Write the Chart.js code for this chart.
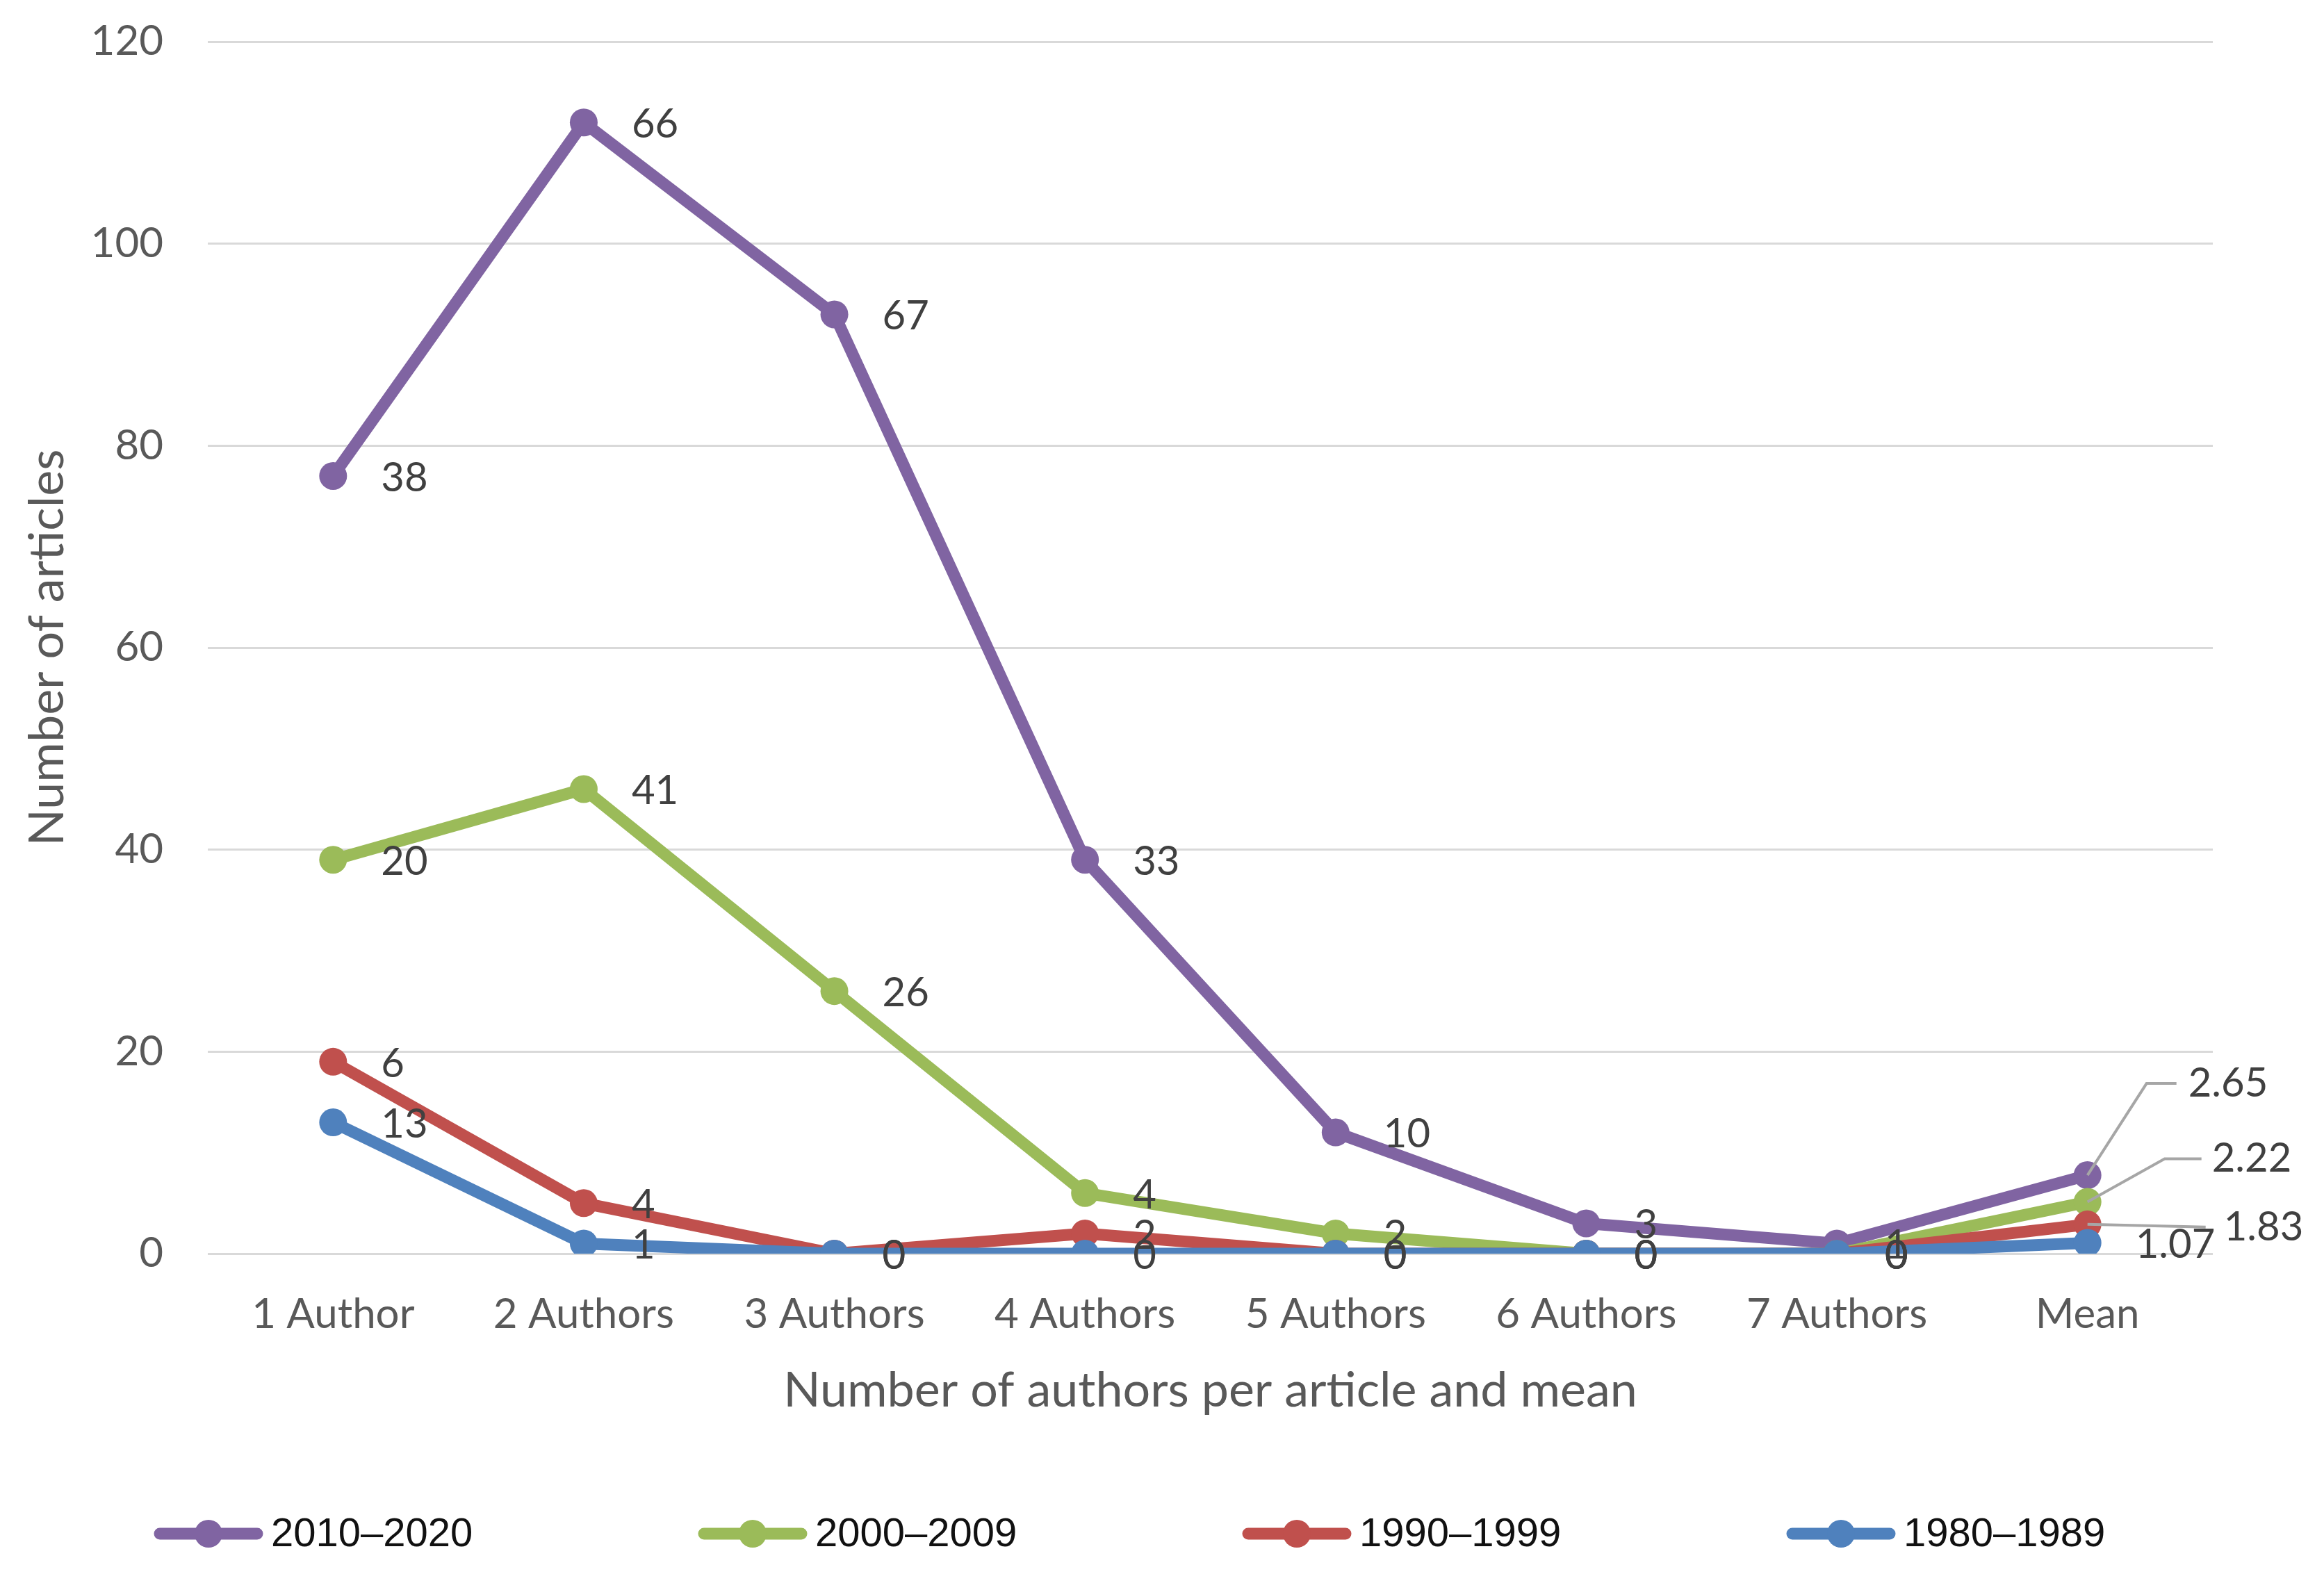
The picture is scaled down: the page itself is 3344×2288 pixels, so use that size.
<!DOCTYPE html>
<html>
<head>
<meta charset="utf-8">
<script src="https://cdn.jsdelivr.net/npm/chart.js@4.4.0/dist/chart.umd.min.js"></script>
<style>
  html, body { margin: 0; padding: 0; background: #fff; }
  canvas { display: block; }
</style>
</head>
<body>
<canvas id="chart" width="3344" height="2288"></canvas>
<script>
// Categories and series (raw counts; the chart stacks them)
const categories = ['1 Author', '2 Authors', '3 Authors', '4 Authors', '5 Authors', '6 Authors', '7 Authors', 'Mean'];
const series1980 = [13, 1, 0, 0, 0, 0, 0, 1.07];
const series1990 = [6, 4, 0, 2, 0, 0, 0, 1.83];
const series2000 = [20, 41, 26, 4, 2, 0, 0, 2.22];
const series2010 = [38, 66, 67, 33, 10, 3, 1, 2.65];
const yTicks = [0, 20, 40, 60, 80, 100, 120];

// Excel-like palette
const COLORS = {
  purple: '#8064A2',
  green: '#9BBB59',
  red: '#C0504D',
  blue: '#4F81BD',
  grid: '#D9D9D9',
  text: '#595959',
  label: '#404040',
  leader: '#A6A6A6',
};

const TICK_FONT = "Lato, 'Open Sans', sans-serif";
const LEGEND_FONT = "'Liberation Sans', Arial, sans-serif";
const LINE_W = 17;
const MARKER_R = 20;

// Callout placement for the "Mean" labels (offsets from the point, px)
const meanCallouts = {
  '2010–2020': { elbow: [85, -132], end: 128, text: 145 },
  '2000–2009': { elbow: [111, -62], end: 164, text: 179 },
  '1990–1999': { elbow: [170, 4], end: 170, text: 196 },
};

function makeSeries(label, data, color) {
  return {
    label,
    data,
    borderColor: color,
    backgroundColor: color,
    borderWidth: LINE_W,
    pointRadius: MARKER_R,
    pointHoverRadius: MARKER_R,
    pointBorderWidth: 0,
    pointBackgroundColor: color,
    fill: false,
    tension: 0,
  };
}

// Value labels next to each point (raw series value, not the stacked total)
const valueLabels = {
  id: 'valueLabels',
  afterDatasetsDraw(chart) {
    const ctx = chart.ctx;
    ctx.save();
    ctx.font = '58px ' + TICK_FONT;
    ctx.fillStyle = COLORS.label;
    ctx.textBaseline = 'middle';
    ctx.textAlign = 'left';
    chart.data.datasets.forEach((ds, di) => {
      const meta = chart.getDatasetMeta(di);
      meta.data.forEach((pt, i) => {
        const txt = String(ds.data[i]);
        const call = (i === ds.data.length - 1) ? meanCallouts[ds.label] : null;
        if (call) {
          ctx.strokeStyle = COLORS.leader;
          ctx.lineWidth = 4;
          ctx.beginPath();
          ctx.moveTo(pt.x, pt.y);
          ctx.lineTo(pt.x + call.elbow[0], pt.y + call.elbow[1]);
          ctx.lineTo(pt.x + call.end, pt.y + call.elbow[1]);
          ctx.stroke();
          ctx.fillText(txt, pt.x + call.text, pt.y + call.elbow[1]);
        } else {
          ctx.fillText(txt, pt.x + 69, pt.y + 3);
        }
      });
    });
    ctx.restore();
  },
};

// Legend drawn as line + marker, newest period first
const lineLegend = {
  id: 'lineLegend',
  afterDraw(chart) {
    const ctx = chart.ctx;
    const y = 2207;
    const items = chart.data.datasets.slice().reverse();
    ctx.save();
    items.forEach((ds, i) => {
      const x0 = 230 + i * 783;
      ctx.strokeStyle = ds.borderColor;
      ctx.lineWidth = LINE_W;
      ctx.lineCap = 'round';
      ctx.beginPath();
      ctx.moveTo(x0, y);
      ctx.lineTo(x0 + 140, y);
      ctx.stroke();
      ctx.fillStyle = ds.borderColor;
      ctx.beginPath();
      ctx.arc(x0 + 70, y, MARKER_R, 0, Math.PI * 2);
      ctx.fill();
      ctx.fillStyle = '#111';
      ctx.font = '58px ' + LEGEND_FONT;
      ctx.textBaseline = 'middle';
      ctx.textAlign = 'left';
      ctx.fillText(ds.label, x0 + 160, y + 2);
    });
    ctx.restore();
  },
};

const ctx = document.getElementById('chart');
new Chart(ctx, {
  type: 'line',
  data: {
    labels: categories,
    datasets: [
      makeSeries('1980–1989', series1980, COLORS.blue),
      makeSeries('1990–1999', series1990, COLORS.red),
      makeSeries('2000–2009', series2000, COLORS.green),
      makeSeries('2010–2020', series2010, COLORS.purple),
    ],
  },
  options: {
    responsive: false,
    devicePixelRatio: 1,
    animation: false,
    layout: { padding: { left: 0, right: 160, top: 60, bottom: 200 } },
    plugins: {
      legend: { display: false },
      tooltip: { enabled: false },
    },
    scales: {
      x: {
        offset: true,
        grid: { display: false, drawTicks: false },
        border: { display: false },
        ticks: { color: COLORS.text, font: { family: TICK_FONT, size: 60 }, padding: 52, maxRotation: 0, autoSkip: false },
        title: {
          display: true,
          text: 'Number of authors per article and mean',
          color: COLORS.text,
          font: { family: TICK_FONT, size: 70 },
          padding: { top: 0, bottom: 45 },
        },
        afterFit(scale) { scale.height = 284; },
      },
      y: {
        stacked: true,
        min: 0,
        max: 120,
        afterBuildTicks(scale) { scale.ticks = yTicks.map(v => ({ value: v })); },
        grid: { color: COLORS.grid, lineWidth: 3, drawTicks: false },
        border: { display: false },
        ticks: { color: COLORS.text, font: { family: TICK_FONT, size: 60 }, padding: 64 },
        title: {
          display: true,
          text: 'Number of articles',
          color: COLORS.text,
          font: { family: TICK_FONT, size: 70 },
          padding: { top: 26, bottom: 0 },
        },
        afterFit(scale) {
          scale.width = 299;
          scale.paddingTop = 0;
          scale.paddingBottom = 0;
        },
      },
    },
  },
  plugins: [valueLabels, lineLegend],
});
</script>
</body>
</html>
